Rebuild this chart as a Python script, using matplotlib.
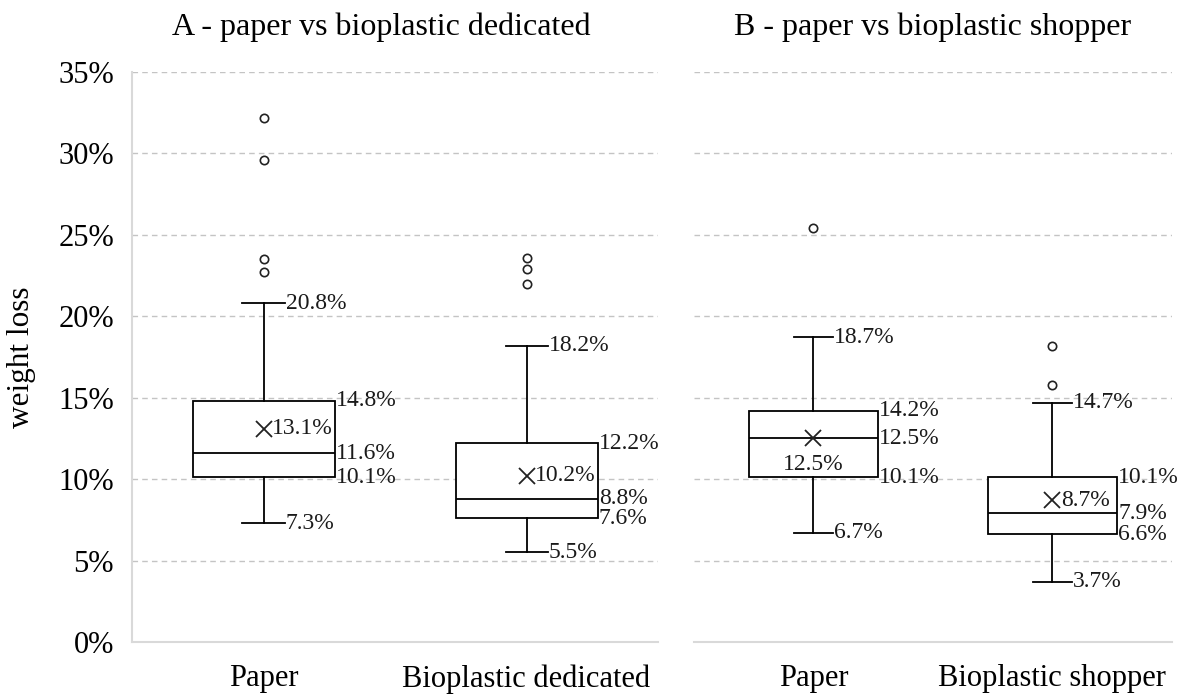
import matplotlib
matplotlib.use("Agg")
import matplotlib.pyplot as plt
import numpy as np
from matplotlib.ticker import PercentFormatter

plt.rcParams['font.family'] = ['Liberation Serif', 'DejaVu Serif']

# A - paper vs bioplastic dedicated (weight loss, %)
cats_a = ['Paper', 'Bioplastic dedicated']
whislo_a = [7.3, 5.5]
q1_a = [10.1, 7.6]
med_a = [11.6, 8.8]
q3_a = [14.8, 12.2]
whishi_a = [20.8, 18.2]
mean_a = [13.1, 10.2]
fliers_a = [[32.2, 29.6, 23.5, 22.7], [23.6, 22.9, 22.0]]

# B - paper vs bioplastic shopper
cats_b = ['Paper', 'Bioplastic shopper']
whislo_b = [6.7, 3.7]
q1_b = [10.1, 6.6]
med_b = [12.5, 7.9]
q3_b = [14.2, 10.1]
whishi_b = [18.7, 14.7]
mean_b = [12.5, 8.7]
fliers_b = [[25.4], [18.2, 15.8]]

BOX_W = 0.54
CAP_W = 0.16
LW = 1.3
LBL = 17


def lbl(ax, x, y, val, dx=1.0, dy=0, ha='left'):
    ax.annotate(f"{val:.1f}%", xy=(x, y), xytext=(dx, dy), textcoords='offset points',
                ha=ha, va='center', fontsize=LBL, color='#1a1a1a', zorder=5)


def draw_panel(ax, cats, whislo, q1, med, q3, whishi, mean, fliers, mean_below=()):
    pos = [1, 2]
    stats = []
    for i, c in enumerate(cats):
        stats.append(dict(label=c, whislo=whislo[i], q1=q1[i], med=med[i], q3=q3[i],
                          whishi=whishi[i], mean=mean[i], fliers=np.array(fliers[i])))
    ax.bxp(stats, positions=pos, widths=BOX_W, capwidths=CAP_W, showmeans=True,
           patch_artist=True,
           boxprops=dict(facecolor='white', edgecolor='black', linewidth=LW),
           medianprops=dict(color='black', linewidth=LW),
           whiskerprops=dict(color='black', linewidth=LW),
           capprops=dict(color='black', linewidth=LW),
           flierprops=dict(marker='o', markersize=6, markerfacecolor='white',
                           markeredgecolor='#222222', markeredgewidth=1.2),
           meanprops=dict(marker='x', markersize=11, markeredgecolor='#222222',
                          markeredgewidth=1.3),
           zorder=3)
    for i, p in enumerate(pos):
        right = p + BOX_W / 2
        cap = p + CAP_W / 2
        lbl(ax, cap, whishi[i], whishi[i])
        lbl(ax, cap, whislo[i], whislo[i])
        lbl(ax, right, q3[i], q3[i])
        lbl(ax, right, med[i], med[i])
        lbl(ax, right, q1[i], q1[i])
        if i in mean_below:
            lbl(ax, p, mean[i], mean[i], dx=0, dy=-19, ha='center')
        else:
            lbl(ax, p, mean[i], mean[i], dx=6)

    ax.set_xlim(0.5, 2.5)
    ax.set_ylim(0, 35)
    ax.set_yticks(np.arange(0, 36, 5))
    ax.yaxis.set_major_formatter(PercentFormatter(decimals=0))
    ax.set_xticks(pos)
    ax.set_xticklabels(cats)
    ax.tick_params(axis='x', length=0, pad=16, labelsize=22)
    ax.tick_params(axis='y', length=0, pad=13, labelsize=22)
    ax.yaxis.grid(True, linestyle=(0, (4, 3)), color='#c4c4c4', linewidth=1)
    ax.set_axisbelow(True)
    for s in ['top', 'right']:
        ax.spines[s].set_visible(False)
    ax.spines['bottom'].set_color('#d9d9d9')
    ax.spines['bottom'].set_linewidth(1.5)
    ax.spines['left'].set_color('#d9d9d9')
    ax.spines['left'].set_linewidth(1.5)


fig = plt.figure(figsize=(11.81, 6.95), dpi=100)
ax_a = fig.add_axes([0.1118, 0.0763, 0.4454, 0.8201])
ax_b = fig.add_axes([0.5876, 0.0763, 0.4047, 0.8201])

draw_panel(ax_a, cats_a, whislo_a, q1_a, med_a, q3_a, whishi_a, mean_a, fliers_a)
draw_panel(ax_b, cats_b, whislo_b, q1_b, med_b, q3_b, whishi_b, mean_b, fliers_b,
           mean_below=(0,))

ax_a.set_title('A - paper vs bioplastic dedicated', fontsize=23, pad=27, x=0.473)
ax_b.set_title('B - paper vs bioplastic shopper', fontsize=23, pad=27)
ax_b.spines['left'].set_visible(False)
ax_b.tick_params(axis='y', labelleft=False)

fig.text(22 / 1181, 1 - 357 / 695, 'weight loss', rotation=90, ha='center', va='center',
         fontsize=22.5)

fig.savefig('out.png', dpi=100)
